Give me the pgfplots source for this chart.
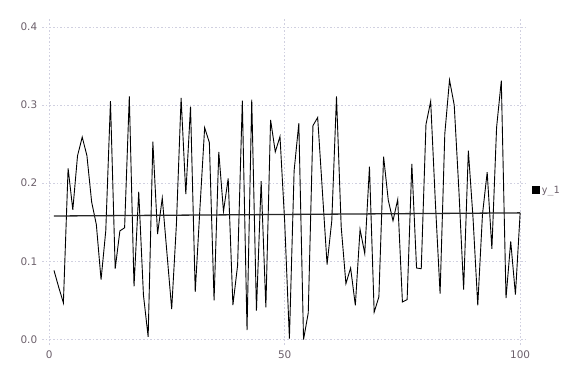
\documentclass[border=0pt]{standalone}
\usepackage{pgfplots}
\pgfplotsset{compat=1.18}
\usepackage{fontspec}
\setmainfont{DejaVu Sans}
\newfontfamily\monofont{DejaVu Sans Mono}
\definecolor{tickgray}{HTML}{6C606B}
\definecolor{gridc}{HTML}{D0D0E0}
\begin{document}
\begin{tikzpicture}
\path (0,0) rectangle (576bp,384bp);
\begin{axis}[
  at={(42.2bp,39bp)}, anchor=south west,
  scale only axis, width=485bp, height=326bp,
  xmin=-1.5, xmax=101.5, ymin=-0.007, ymax=0.41,
  xtick={0,50,100}, ytick={0,0.1,0.2,0.3,0.4},
  axis line style={draw=none},
  major tick length=0pt,
  grid=major,
  major grid style={gridc, line width=0.6bp, dash pattern=on 1.6bp off 2bp},
  /pgf/number format/assume math mode=true,
  yticklabel style={/pgf/number format/fixed, /pgf/number format/precision=1, /pgf/number format/fixed zerofill, xshift=-1.5bp},
  xticklabel style={yshift=-2.5bp},
  ticklabel style={font=\fontsize{10.5}{12}\selectfont, text=tickgray},
  legend style={at={(1.01,0.475)}, anchor=west, draw=none, fill=none,
    font=\fontsize{10}{12}\selectfont\monofont, text=tickgray,
    inner sep=0pt, row sep=0pt},
  legend cell align=left,
  legend image code/.code={\fill[black] (0bp,-3bp) rectangle (6bp,3bp);},
]
\addplot[black, line width=0.9bp, forget plot] coordinates {
(1,0.0885)(2,0.067)(3,0.047)(4,0.219)(5,0.166)(6,0.235)(7,0.259)(8,0.235)(9,0.176)(10,0.147)
(11,0.0766)(12,0.139)(13,0.305)(14,0.0906)(15,0.139)(16,0.143)(17,0.311)(18,0.068)(19,0.189)(20,0.057)
(21,0.0034)(22,0.253)(23,0.135)(24,0.181)(25,0.11)(26,0.039)(27,0.147)(28,0.309)(29,0.186)(30,0.298)
(31,0.061)(32,0.168)(33,0.271)(34,0.252)(35,0.050)(36,0.240)(37,0.164)(38,0.206)(39,0.044)(40,0.095)
(41,0.3055)(42,0.012)(43,0.307)(44,0.037)(45,0.2026)(46,0.041)(47,0.281)(48,0.240)(49,0.2596)(50,0.15)
(51,0.0013)(52,0.216)(53,0.2766)(54,0.0)(55,0.034)(56,0.2736)(57,0.284)(58,0.19)(59,0.096)(60,0.152)
(61,0.311)(62,0.144)(63,0.0715)(64,0.0915)(65,0.0438)(66,0.141)(67,0.11)(68,0.221)(69,0.035)(70,0.0545)
(71,0.234)(72,0.178)(73,0.152)(74,0.179)(75,0.048)(76,0.051)(77,0.2247)(78,0.0915)(79,0.0906)(80,0.275)
(81,0.3047)(82,0.175)(83,0.0587)(84,0.263)(85,0.332)(86,0.30)(87,0.19)(88,0.064)(89,0.2417)(90,0.155)
(91,0.0438)(92,0.16)(93,0.214)(94,0.116)(95,0.2715)(96,0.331)(97,0.053)(98,0.1255)(99,0.0574)(100,0.162)
};
\addplot[black!85, line width=1.3bp] coordinates {(1,0.158)(100,0.162)};
\addlegendentry{y\_1}
\end{axis}
\end{tikzpicture}
\end{document}
